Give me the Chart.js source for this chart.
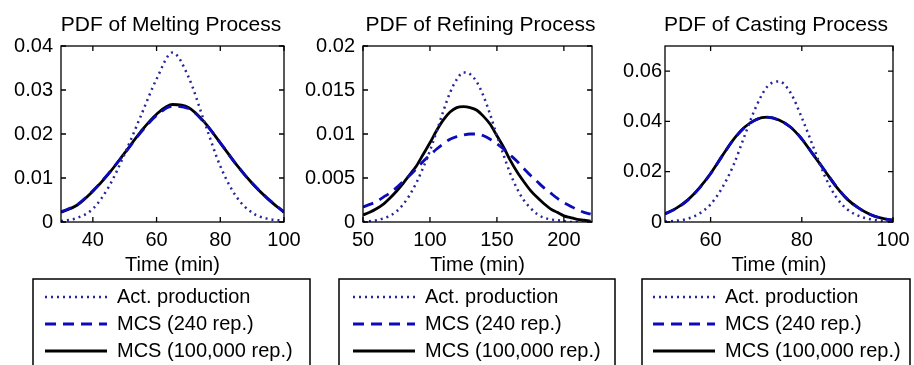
<!DOCTYPE html>
<html>
<head>
<meta charset="utf-8">
<script src="https://cdn.jsdelivr.net/npm/chart.js@4.4.1/dist/chart.umd.min.js"></script>
<style>
  html, body { margin: 0; padding: 0; background: #fff; }
  body { width: 914px; height: 365px; overflow: hidden; position: relative; }
  canvas { position: absolute; top: 0; }
</style>
</head>
<body>
<canvas id="melting" width="320" height="371" style="left:0px"></canvas>
<canvas id="refining" width="320" height="371" style="left:300px"></canvas>
<canvas id="casting" width="314" height="371" style="left:600px"></canvas>
<script>
let seriesNames = ['Act. production', 'MCS (240 rep.)', 'MCS (100,000 rep.)']

// Melting
let meltTime = [30, 35, 40, 45, 50, 55, 60, 65, 70, 75, 80, 85, 90, 95, 100]
let meltAct = [0.0002, 0.0009, 0.0030, 0.0080, 0.0155, 0.0240, 0.0325, 0.0385, 0.0330, 0.0228, 0.0127, 0.0058, 0.0021, 0.0007, 0.0003]
let meltMcs240 = [0.0023, 0.0039, 0.0071, 0.0111, 0.0156, 0.0203, 0.0242, 0.0263, 0.0258, 0.0226, 0.0180, 0.0131, 0.0088, 0.0053, 0.0023]
let meltMcs100k = [0.0022, 0.0038, 0.0070, 0.0110, 0.0157, 0.0205, 0.0245, 0.0267, 0.0260, 0.0227, 0.0180, 0.0131, 0.0088, 0.0052, 0.0022]
let meltXTicks = [40, 60, 80, 100]
let meltYTicks = [0, 0.01, 0.02, 0.03, 0.04]

// Refining
let refTime = [50, 55, 60, 65, 70, 75, 80, 85, 90, 95, 100, 105, 110, 115, 120, 125, 130, 135,
    140, 145, 150, 155, 160, 165, 170, 175, 180, 185, 190, 195, 200, 205, 210, 215, 220]
let refAct = [0.0000, 0.0001, 0.0002, 0.0004, 0.0007, 0.0012, 0.0020, 0.0031, 0.0045, 0.0062, 0.0081, 0.0103, 0.0126, 0.0147, 0.0162, 0.0170, 0.0168, 0.0159,
    0.0143, 0.0122, 0.0098, 0.0076, 0.0055, 0.0038, 0.0025, 0.0016, 0.0009, 0.0005, 0.0003, 0.0002, 0.0001, 0.0000, 0.0000, 0.0000, 0.0000]
let refMcs240 = [0.0017, 0.0020, 0.0023, 0.0028, 0.0033, 0.0039, 0.0046, 0.0053, 0.0061, 0.0069, 0.0076, 0.0083, 0.0089, 0.0094, 0.0097, 0.0099, 0.0100, 0.0100,
    0.0098, 0.0094, 0.0089, 0.0083, 0.0076, 0.0069, 0.0061, 0.0053, 0.0046, 0.0039, 0.0033, 0.0027, 0.0022, 0.0018, 0.0014, 0.0011, 0.0009]
let refMcs100k = [0.0008, 0.0011, 0.0015, 0.0020, 0.0027, 0.0035, 0.0044, 0.0054, 0.0064, 0.0077, 0.0090, 0.0104, 0.0116, 0.0125, 0.0130, 0.0131, 0.0130, 0.0127,
    0.0120, 0.0111, 0.0098, 0.0085, 0.0070, 0.0057, 0.0046, 0.0036, 0.0028, 0.0021, 0.0015, 0.0011, 0.0007, 0.0005, 0.0003, 0.0002, 0.0001]
let refXTicks = [50, 100, 150, 200]
let refYTicks = [0, 0.005, 0.01, 0.015, 0.02]

// Casting
let castTime = [50, 52.5, 55, 57.5, 60, 62.5, 65, 67.5, 70, 72.5, 75, 77.5, 80, 82.5, 85, 87.5, 90, 92.5, 95, 97.5, 100]
let castAct = [0.0002, 0.0005, 0.0013, 0.0033, 0.0070, 0.0135, 0.0225, 0.0345, 0.0460, 0.0540, 0.0559, 0.0515, 0.0415, 0.0300, 0.0185, 0.0100, 0.0050, 0.0024, 0.0011, 0.0005, 0.0002]
let castMcs240 = [0.0032, 0.0054, 0.0087, 0.0134, 0.0192, 0.0261, 0.0327, 0.0377, 0.0407, 0.0416, 0.0405, 0.0378, 0.0331, 0.0268, 0.0206, 0.0143, 0.0091, 0.0055, 0.0030, 0.0015, 0.0007]
let castMcs100k = [0.0033, 0.0055, 0.0088, 0.0135, 0.0193, 0.0262, 0.0328, 0.0378, 0.0408, 0.0417, 0.0406, 0.0378, 0.0330, 0.0268, 0.0205, 0.0142, 0.0090, 0.0055, 0.0030, 0.0015, 0.0007]
let castXTicks = [60, 80, 100]
let castYTicks = [0, 0.02, 0.04, 0.06]

let lineStyles = [
    { color: '#26269a', width: 2.5, dash: [2, 4] },
    { color: '#0b0bb8', width: 2.8, dash: [11, 7] },
    { color: '#000000', width: 2.8, dash: [] }
]

let fontFamily = '"Liberation Sans", Arial, sans-serif'
Chart.defaults.font.family = fontFamily
Chart.defaults.color = '#000'

// width of the widest y label, so mirrored labels can sit right-aligned left of the axes
let measureCtx = document.createElement('canvas').getContext('2d')
function widestLabel(values, size) {
    measureCtx.font = size + 'px ' + fontFamily
    return Math.max(...values.map(v => measureCtx.measureText(String(v)).width))
}

// box round the axes with inward ticks, and the open frame round the legend
const matlabBox = {
    id: 'matlabBox',
    afterDraw(chart, args, opts) {
        const { ctx, chartArea: a, scales, legend } = chart
        ctx.save()
        ctx.strokeStyle = '#000'
        ctx.lineWidth = 1.3
        ctx.strokeRect(a.left, a.top, a.right - a.left, a.bottom - a.top)
        ctx.beginPath()
        scales.x.ticks.forEach(t => {
            let px = scales.x.getPixelForValue(t.value)
            ctx.moveTo(px, a.bottom); ctx.lineTo(px, a.bottom - 5)
            ctx.moveTo(px, a.top); ctx.lineTo(px, a.top + 5)
        })
        scales.y.ticks.forEach(t => {
            let py = scales.y.getPixelForValue(t.value)
            ctx.moveTo(a.left, py); ctx.lineTo(a.left + 5, py)
            ctx.moveTo(a.right, py); ctx.lineTo(a.right - 5, py)
        })
        ctx.stroke()

        let l = legend.left + opts.frameL
        let r = legend.right + opts.frameR
        let t = legend.top - 1
        ctx.lineWidth = 1.5
        ctx.beginPath()
        ctx.moveTo(l, chart.height); ctx.lineTo(l, t); ctx.lineTo(r, t); ctx.lineTo(r, chart.height)
        ctx.stroke()
        ctx.restore()
    }
}

function makePanel(id, title, xs, ys, xMin, xMax, xTicks, yMax, yTicks, box) {
    let yLabelPad = -box.gap - widestLabel(yTicks, 20)
    return new Chart(document.getElementById(id), {
        type: 'line',
        data: {
            datasets: ys.map((vals, i) => ({
                label: seriesNames[i],
                data: xs.map((x, j) => ({ x: x, y: vals[j] })),
                borderColor: lineStyles[i].color,
                backgroundColor: lineStyles[i].color,
                borderWidth: lineStyles[i].width,
                borderDash: lineStyles[i].dash,
                pointRadius: 0,
                fill: false,
                cubicInterpolationMode: 'monotone'
            }))
        },
        options: {
            responsive: false,
            animation: false,
            layout: { padding: { left: box.padL, right: box.padR, top: 0, bottom: 0 } },
            scales: {
                x: {
                    type: 'linear',
                    min: xMin,
                    max: xMax,
                    afterBuildTicks: s => { s.ticks = xTicks.map(v => ({ value: v })) },
                    ticks: { font: { size: 20 }, padding: -2, maxRotation: 0, autoSkip: false, callback: v => String(v) },
                    grid: { display: false },
                    border: { display: false },
                    title: { display: true, text: 'Time (min)', font: { size: 20 }, padding: { top: 0, bottom: 3 } },
                    afterFit: s => { s.height = 58 }
                },
                y: {
                    type: 'linear',
                    min: 0,
                    max: yMax,
                    afterBuildTicks: s => { s.ticks = yTicks.map(v => ({ value: v })) },
                    ticks: { font: { size: 20 }, mirror: true, crossAlign: 'far', padding: yLabelPad, callback: v => String(v) },
                    grid: { display: false },
                    border: { display: false },
                    afterFit: s => { s.width = box.yW }
                },
                y2: {
                    type: 'linear',
                    position: 'right',
                    display: true,
                    ticks: { display: false },
                    grid: { display: false },
                    border: { display: false },
                    afterFit: s => { s.width = box.y2W }
                }
            },
            plugins: {
                title: {
                    display: true,
                    text: title,
                    font: { size: 21, weight: 'normal', lineHeight: 1.2 },
                    padding: { top: 12.4, bottom: 8.4 }
                },
                legend: {
                    position: 'bottom',
                    align: 'start',
                    labels: {
                        usePointStyle: true,
                        pointStyleWidth: 62,
                        padding: 7,
                        font: { size: 20 },
                        color: '#000',
                        generateLabels: chart => chart.data.datasets.map((ds, i) => ({
                            text: ds.label,
                            strokeStyle: ds.borderColor,
                            fillStyle: ds.borderColor,
                            lineWidth: ds.borderWidth,
                            lineDash: ds.borderDash,
                            pointStyle: 'line',
                            fontColor: '#000',
                            datasetIndex: i
                        }))
                    }
                },
                tooltip: { enabled: false },
                matlabBox: { frameL: box.frameL, frameR: box.frameR }
            }
        },
        plugins: [matlabBox]
    })
}

makePanel('melting', 'PDF of Melting Process', meltTime, [meltAct, meltMcs240, meltMcs100k],
    30, 100, meltXTicks, 0.04, meltYTicks,
    { padL: 38, padR: 16, yW: 23, y2W: 20, gap: 8, frameL: -5, frameR: 6 })

makePanel('refining', 'PDF of Refining Process', refTime, [refAct, refMcs240, refMcs100k],
    50, 221, refXTicks, 0.02, refYTicks,
    { padL: 46, padR: 5, yW: 17, y2W: 23, gap: 8, frameL: -7, frameR: 0 })

makePanel('casting', 'PDF of Casting Process', castTime, [castAct, castMcs240, castMcs100k],
    50, 100, castXTicks, 0.07, castYTicks,
    { padL: 46, padR: 8, yW: 19, y2W: 13, gap: 3, frameL: -4, frameR: 4 })
</script>
</body>
</html>
